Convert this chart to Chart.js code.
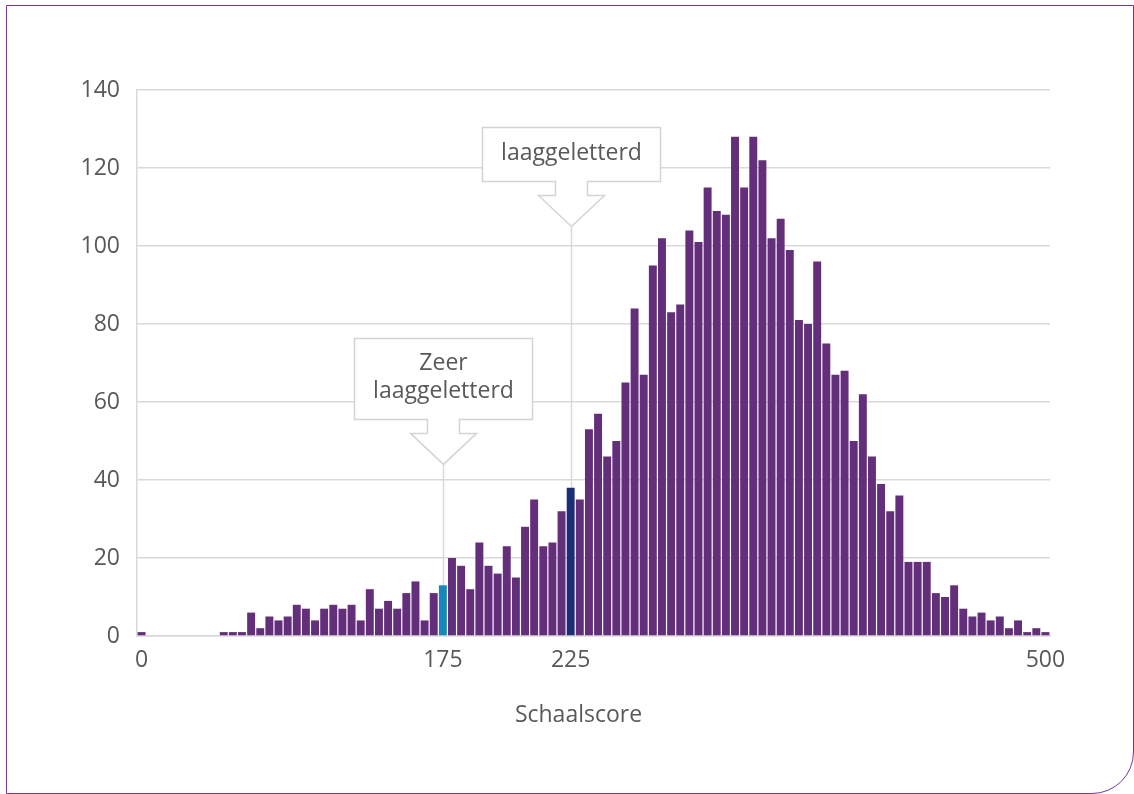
<!DOCTYPE html>
<html>
<head>
<meta charset="utf-8">
<script src="https://cdn.jsdelivr.net/npm/chart.js@4"></script>
<style>
  html, body { margin: 0; padding: 0; background: #ffffff; }
  #wrap { position: relative; width: 1134px; height: 794px; overflow: hidden; }
  #frame {
    position: absolute; left: 6px; top: 5px; width: 1128px; height: 789px;
    box-sizing: border-box; border: 1.5px solid #76399b; border-bottom-right-radius: 42px;
  }
  #chart { position: absolute; left: 0; top: 0; }
</style>
</head>
<body>
<div id="wrap">
  <div id="frame"></div>
  <canvas id="chart" width="1134" height="794"></canvas>
</div>
<script>
// Number of people per score bin (100 bins, scale 0 - 500)
var counts = [
    1, 0, 0, 0, 0, 0, 0, 0, 0, 1,
    1, 1, 6, 2, 5, 4, 5, 8, 7, 4,
    7, 8, 7, 8, 4, 12, 7, 9, 7, 11,
    14, 4, 11, 13, 20, 18, 12, 24, 18, 16,
    23, 15, 28, 35, 23, 24, 32, 38, 35, 53,
    57, 46, 50, 65, 84, 67, 95, 102, 83, 85,
    104, 101, 115, 109, 108, 128, 115, 128, 122, 102,
    107, 99, 81, 80, 96, 75, 67, 68, 50, 62,
    46, 39, 32, 36, 19, 19, 19, 11, 10, 13,
    7, 5, 6, 4, 5, 2, 4, 1, 2, 1
];

// x-axis labels shown only on a few bins
var tickIndex = [0, 33, 47, 99];
var tickText = ['0', '175', '225', '500'];
var axisTitle = 'Schaalscore';

// callouts: bin they point at, value where the arrow tip sits, text lines
var calloutIndex = [33, 47];
var calloutTip = [44, 105];
var calloutText = [['Zeer', 'laaggeletterd'], ['laaggeletterd']];

var barColor = '#642f7a';
var highlightColors = { 33: '#1589bb', 47: '#1c2e78' };

var textColor = '#595959';
var gridColor = '#d9d9d9';
var fontFamily = '"Open Sans", "Noto Sans", sans-serif';

var bins = counts.map((_, i) => i);

const calloutPlugin = {
    id: 'callouts',
    beforeDatasetsDraw(chart) {
        const { ctx, chartArea, scales: { x, y } } = chart;
        ctx.save();
        ctx.strokeStyle = gridColor;
        ctx.lineWidth = 1.5;
        calloutIndex.forEach((idx, i) => {
            const px = Math.round(x.getPixelForValue(idx)) + 0.5;
            ctx.beginPath();
            ctx.moveTo(px, y.getPixelForValue(calloutTip[i]));
            ctx.lineTo(px, chartArea.bottom);
            ctx.stroke();
        });
        ctx.restore();
    },
    afterDatasetsDraw(chart) {
        const { ctx, scales: { x, y } } = chart;
        ctx.save();
        calloutIndex.forEach((idx, i) => {
            const lines = calloutText[i];
            const px = Math.round(x.getPixelForValue(idx)) + 0.5;
            const tipY = y.getPixelForValue(calloutTip[i]);
            const headTop = tipY - 31;
            const boxBottom = headTop - 14;
            const boxH = 27 + lines.length * 27;
            const boxTop = boxBottom - boxH;
            const half = 89;

            ctx.beginPath();
            ctx.moveTo(px - half, boxTop);
            ctx.lineTo(px + half, boxTop);
            ctx.lineTo(px + half, boxBottom);
            ctx.lineTo(px + 16, boxBottom);
            ctx.lineTo(px + 16, headTop);
            ctx.lineTo(px + 33, headTop);
            ctx.lineTo(px, tipY);
            ctx.lineTo(px - 33, headTop);
            ctx.lineTo(px - 16, headTop);
            ctx.lineTo(px - 16, boxBottom);
            ctx.lineTo(px - half, boxBottom);
            ctx.closePath();
            ctx.fillStyle = '#ffffff';
            ctx.fill();
            ctx.strokeStyle = '#d4d4d4';
            ctx.lineWidth = 1.5;
            ctx.stroke();

            ctx.fillStyle = textColor;
            ctx.font = '23px ' + fontFamily;
            ctx.textAlign = 'center';
            ctx.textBaseline = 'middle';
            const mid = (boxTop + boxBottom) / 2 - 1.5;
            const lh = 27.5;
            lines.forEach((t, k) => {
                ctx.fillText(t, px, mid + (k - (lines.length - 1) / 2) * lh);
            });
        });

        // axis title, sits a bit left of the plot centre like the original
        const { chartArea } = chart;
        ctx.fillStyle = textColor;
        ctx.font = '23px ' + fontFamily;
        ctx.textAlign = 'center';
        ctx.textBaseline = 'middle';
        ctx.fillText(axisTitle, (chartArea.left + chartArea.right) / 2 - 15, chartArea.bottom + 79);
        ctx.restore();
    }
};

new Chart(
    document.getElementById('chart'),
    {
        type: 'bar',
        data: {
            labels: bins,
            datasets: [
                {
                    data: counts,
                    backgroundColor: bins.map(i => highlightColors[i] || barColor),
                    borderWidth: 0,
                    barPercentage: 0.87,
                    categoryPercentage: 1
                }
            ]
        },
        options: {
            responsive: false,
            animation: false,
            layout: {
                padding: { top: 90, right: 84, left: 0, bottom: 0 }
            },
            plugins: {
                legend: { display: false },
                tooltip: { enabled: false }
            },
            scales: {
                x: {
                    grid: { display: false, drawTicks: false },
                    border: { display: true, color: gridColor, width: 1.5 },
                    ticks: {
                        autoSkip: false,
                        maxRotation: 0,
                        padding: 11,
                        color: textColor,
                        font: { family: fontFamily, size: 23 },
                        callback: function (value, index) {
                            let k = tickIndex.indexOf(index);
                            return k >= 0 ? tickText[k] : '';
                        }
                    },
                    afterFit: (scale) => { scale.height = 158; }
                },
                y: {
                    min: 0,
                    max: 140,
                    grid: { color: gridColor, lineWidth: 1.5, drawTicks: false },
                    border: { display: true, color: gridColor, width: 1.5 },
                    ticks: {
                        stepSize: 20,
                        padding: 17,
                        color: textColor,
                        font: { family: fontFamily, size: 23 }
                    },
                    afterFit: (scale) => { scale.width = 137; }
                }
            }
        },
        plugins: [calloutPlugin]
    }
);
</script>
</body>
</html>
